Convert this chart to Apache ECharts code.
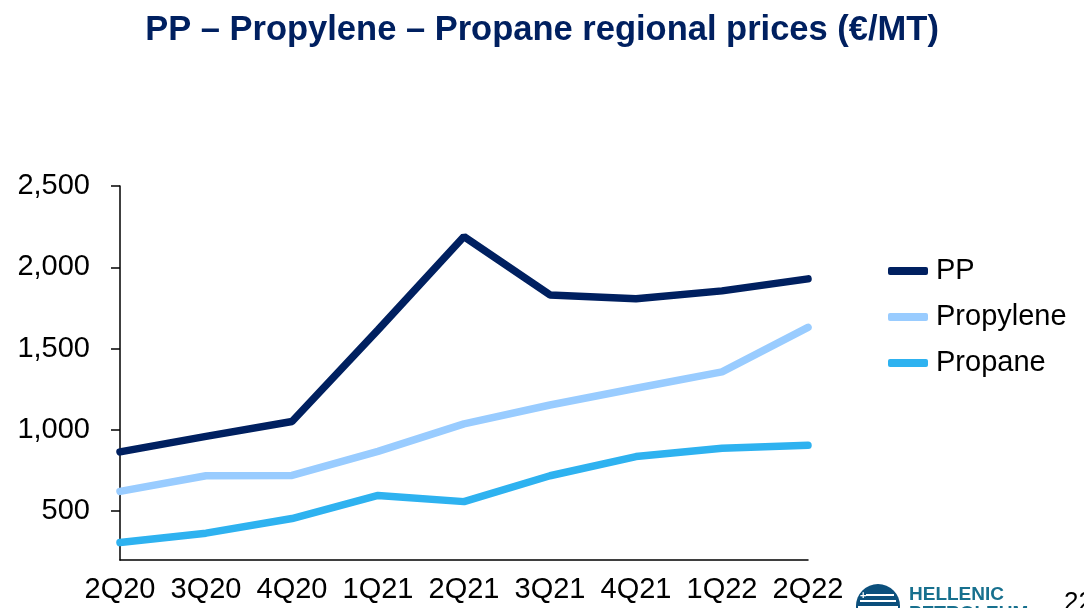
<!DOCTYPE html>
<html>
<head>
<meta charset="utf-8">
<script src="https://cdn.jsdelivr.net/npm/echarts@6/dist/echarts.min.js"></script>
<style>
  html, body { margin: 0; padding: 0; background: #fff; }
  #chart { width: 1084px; height: 608px; }
</style>
</head>
<body>
<div id="chart"></div>
<script>
  // quarters on the x axis
  const categories = ['2Q20', '3Q20', '4Q20', '1Q21', '2Q21', '3Q21', '4Q21', '1Q22', '2Q22'];

  // €/MT
  const ppPrices = [865, 960, 1052, 1615, 2189, 1830, 1806, 1855, 1929];
  const propylenePrices = [622, 718, 720, 868, 1037, 1153, 1256, 1357, 1631];
  const propanePrices = [307, 365, 455, 597, 559, 718, 836, 887, 905];

  const yTicks = [500, 1000, 1500, 2000, 2500];

  const font = '"Liberation Sans", Arial, sans-serif';

  const chart = echarts.init(document.getElementById('chart'));

  const line = (name, data, color) => ({
    name,
    type: 'line',
    data,
    showSymbol: false,
    symbol: 'none',
    lineStyle: { color, width: 7.5, cap: 'round' },
    itemStyle: { color },
    animation: false,
  });

  chart.setOption({
    animation: false,
    title: {
      text: 'PP – Propylene – Propane regional prices (€/MT)',
      left: 'center',
      top: 8,
      textStyle: {
        fontFamily: font,
        fontSize: 34.5,
        fontWeight: 'bold',
        color: '#002060',
      },
    },
    grid: {
      left: 120,
      right: 276,
      top: 186,
      bottom: 48,
    },
    legend: {
      orient: 'vertical',
      left: 883,
      top: 251,
      itemWidth: 40,
      itemHeight: 8,
      itemGap: 16,
      icon: 'roundRect',
      textStyle: {
        fontFamily: font,
        fontSize: 29,
        color: '#000',
        lineHeight: 30,
        padding: [0, 0, 0, 3],
      },
      data: ['PP', 'Propylene', 'Propane'],
    },
    xAxis: {
      type: 'category',
      data: categories,
      boundaryGap: false,
      axisLine: { lineStyle: { color: '#000', width: 1.5 } },
      axisTick: { show: false },
      axisLabel: {
        interval: 0,
        fontFamily: font,
        fontSize: 29,
        color: '#000',
        margin: 15,
      },
    },
    yAxis: {
      type: 'value',
      min: 200,
      max: 2500,
      axisLine: { show: true, lineStyle: { color: '#000', width: 1.5 } },
      axisTick: {
        show: true,
        length: 9,
        customValues: yTicks,
        lineStyle: { color: '#000', width: 1.5 },
      },
      splitLine: { show: false },
      axisLabel: {
        customValues: yTicks,
        fontFamily: font,
        fontSize: 29,
        color: '#000',
        margin: 30,
        formatter: (v) => v.toLocaleString('en-US'),
      },
    },
    graphic: [
      // company logo, bottom right, partly cut off like on the slide
      { type: 'circle', shape: { cx: 878, cy: 606, r: 22 }, style: { fill: '#0B4F7C' } },
      { type: 'rect', shape: { x: 866, y: 594, width: 28, height: 2 }, style: { fill: '#fff' } },
      { type: 'rect', shape: { x: 860, y: 600, width: 36, height: 2 }, style: { fill: '#fff' } },
      { type: 'rect', shape: { x: 858, y: 606, width: 40, height: 2 }, style: { fill: '#fff' } },
      { type: 'text', left: 860, top: 590, style: { text: '+', fill: '#fff', font: 'bold 11px ' + font } },
      {
        type: 'text',
        left: 909,
        top: 585,
        style: { text: 'HELLENIC', fill: '#17708E', font: 'bold 19px ' + font },
      },
      {
        type: 'text',
        left: 909,
        top: 604,
        style: { text: 'PETROLEUM', fill: '#17708E', font: 'bold 19px ' + font },
      },
      {
        type: 'text',
        left: 1064,
        top: 590,
        style: { text: '22', fill: '#000', font: '26px ' + font },
      },
    ],
    series: [
      line('PP', ppPrices, '#002060'),
      line('Propylene', propylenePrices, '#99CCFF'),
      line('Propane', propanePrices, '#2EB2F0'),
    ],
  });
</script>
</body>
</html>
